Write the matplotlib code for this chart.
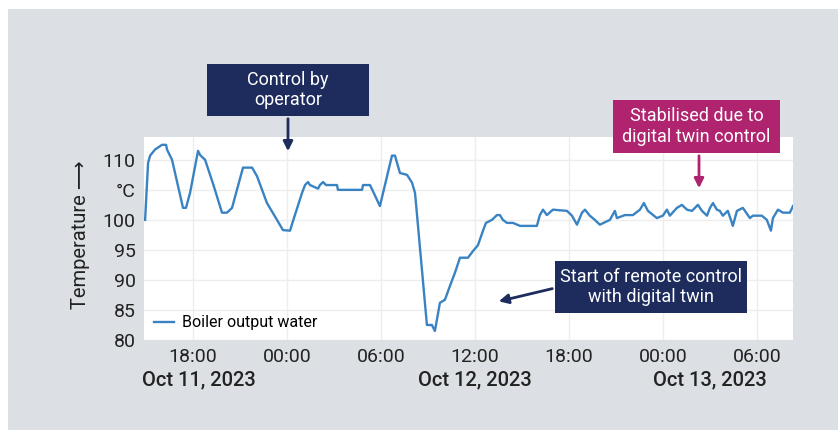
"""
Boiler output water temperature, operator control vs digital twin control.
"""
import matplotlib
matplotlib.use("Agg")
import matplotlib.pyplot as plt
import matplotlib.dates as mdates
import pandas as pd
from matplotlib.patches import Rectangle

# hours counted from Oct 11, 2023 00:00
hours = [
    14.94, 15.13, 15.26, 15.57, 16.02, 16.28, 16.34, 16.66, 17.36, 17.55,
    17.81, 18.32, 18.45, 18.77, 19.28, 19.85, 20.17, 20.49, 21.19, 21.77,
    22.08, 22.72, 23.36, 23.74, 24.19, 24.38, 24.96, 25.15, 25.34, 25.47,
    25.98, 26.10, 26.30, 26.49, 27.19, 27.25, 28.79, 28.85, 29.30, 29.93,
    30.70, 30.89, 31.21, 31.66, 31.98, 32.17, 32.23, 32.93, 33.25, 33.44,
    33.76, 34.08, 34.40, 34.72, 35.04, 35.55, 35.87, 36.19, 36.51, 36.70,
    37.08, 37.40, 37.59, 37.78, 38.04, 38.42, 38.87, 39.95, 40.14, 40.34,
    40.59, 40.97, 41.87, 42.19, 42.51, 42.83, 43.02, 43.33, 43.65, 43.97,
    44.61, 44.93, 45.06, 45.57, 46.08, 46.53, 46.78, 47.04, 47.61, 47.99,
    48.25, 48.44, 48.89, 49.21, 49.53, 49.85, 50.04, 50.23, 50.49, 50.81,
    51.00, 51.19, 51.44, 51.63, 51.82, 52.14, 52.40, 52.46, 52.72, 53.10,
    53.55, 53.74, 54.31, 54.63, 54.89, 55.02, 55.34, 55.66, 56.10, 56.30,
]
temps = [
    100.0, 109.5, 110.7, 111.7, 112.5, 112.5, 111.7, 110.0, 102.0, 102.0,
    104.5, 111.5, 110.8, 110.0, 106.0, 101.2, 101.2, 102.0, 108.7, 108.7,
    107.3, 102.8, 100.0, 98.3, 98.2, 99.8, 104.5, 105.8, 106.3, 105.8,
    105.2, 105.8, 106.3, 105.8, 105.8, 105.0, 105.0, 105.8, 105.8, 102.3,
    110.7, 110.7, 107.8, 107.5, 106.2, 104.5, 102.8, 82.5, 82.5, 81.5,
    86.2, 86.7, 89.0, 91.2, 93.7, 93.7, 94.8, 95.8, 98.2, 99.5,
    100.0, 100.8, 100.8, 100.0, 99.5, 99.5, 99.0, 99.0, 100.8, 101.7,
    100.8, 101.7, 101.5, 100.7, 99.2, 101.2, 101.7, 100.7, 100.0, 99.2,
    100.0, 101.5, 100.3, 100.8, 100.8, 101.7, 102.8, 101.5, 100.3, 100.7,
    101.7, 100.7, 102.0, 102.5, 101.7, 101.5, 102.0, 102.5, 101.5, 100.7,
    102.0, 102.8, 101.7, 101.5, 100.7, 101.5, 99.5, 99.0, 101.5, 102.0,
    100.3, 100.7, 100.7, 100.0, 98.2, 100.3, 101.7, 101.2, 101.2, 102.3,
]

y_ticks = [80, 85, 90, 95, 100, 105, 110]
y_tick_labels = ["80", "85", "90", "95", "100", "°C", "110"]
x_tick_hours = [18, 24, 30, 36, 42, 48, 54]
date_labels = ["Oct 11, 2023", "Oct 12, 2023", "Oct 13, 2023"]
date_label_hours = [18.4, 36.0, 51.0]

START = pd.Timestamp("2023-10-11 00:00")
W, H = 838, 430

NAVY = "#1d2c5c"
MAGENTA = "#b0236f"
LINE = "#3a83c3"
BG = "#dce0e4"
TEXT = "#222222"

plt.rcParams["font.family"] = ["Roboto", "DejaVu Sans"]


def _t(h):
    return START + pd.to_timedelta(h, unit="h")


def _fx(px):
    return px / W


def _fy(py):
    return (H - py) / H


def _box(fig, x0, y0, x1, y1, color, text):
    fig.patches.append(Rectangle((_fx(x0), _fy(y1)), _fx(x1 - x0), (y1 - y0) / H,
                                 transform=fig.transFigure, facecolor=color,
                                 edgecolor="none", zorder=5))
    fig.text(_fx((x0 + x1) / 2), _fy((y0 + y1) / 2), text, color="white",
             fontsize=13, ha="center", va="center", linespacing=1.2, zorder=6)


def _arrow(fig, start, end, color):
    fig.add_artist(matplotlib.patches.FancyArrowPatch(
        (_fx(start[0]), _fy(start[1])), (_fx(end[0]), _fy(end[1])),
        transform=fig.transFigure, arrowstyle="-|>", mutation_scale=14,
        color=color, linewidth=2, zorder=6))


def main():
    fig = plt.figure(figsize=(W / 100, H / 100), dpi=100, facecolor="white")
    fig.patches.append(Rectangle((_fx(8), 0), 1, _fy(9), transform=fig.transFigure,
                                 facecolor=BG, edgecolor="none", zorder=-10))

    ax = fig.add_axes([_fx(144), _fy(340), _fx(649), 203 / H])
    ax.set_facecolor("white")
    times = [_t(h) for h in hours]
    ax.plot(times, temps, color=LINE, linewidth=1.7, label="Boiler output water")

    ax.set_xlim(_t(14.87), _t(56.3))
    ax.set_ylim(80, 113.8)
    ax.set_yticks(y_ticks)
    ax.set_yticklabels(y_tick_labels)
    ax.set_xticks([_t(h) for h in x_tick_hours])
    ax.xaxis.set_major_formatter(mdates.DateFormatter("%H:%M"))
    ax.tick_params(length=0, labelsize=14, colors=TEXT, pad=6)
    ax.grid(color="#ededed", linewidth=1)
    for sp in ax.spines.values():
        sp.set_visible(False)

    for h, lab in zip(date_label_hours, date_labels):
        ax.text(_t(h), _fy(380), lab, transform=ax.get_xaxis_transform(),
                fontsize=14.5, fontweight="medium", color=TEXT, ha="center", va="center")
    # put date labels in figure y coords
    for txt in ax.texts:
        txt.set_transform(matplotlib.transforms.blended_transform_factory(
            ax.transData, fig.transFigure))

    ax.legend(loc="lower left", frameon=False, fontsize=11.5, handlelength=1.3,
              borderaxespad=0.2, handletextpad=0.5)

    fig.text(_fx(80), _fy(235), "Temperature ⟶", rotation=90, fontsize=14.5,
             color=TEXT, ha="center", va="center")

    _box(fig, 207, 64, 369, 116, NAVY, "Control by\noperator")
    _arrow(fig, (288, 116), (288, 154), NAVY)
    _box(fig, 613, 100, 780, 153, MAGENTA, "Stabilised due to\ndigital twin control")
    _arrow(fig, (699, 153), (699, 191), MAGENTA)
    _box(fig, 555, 261, 747, 313, NAVY, "Start of remote control\nwith digital twin")
    _arrow(fig, (555, 288), (496, 302), NAVY)

    fig.savefig("out.png", dpi=100, facecolor=fig.get_facecolor())


if __name__ == "__main__":
    main()
